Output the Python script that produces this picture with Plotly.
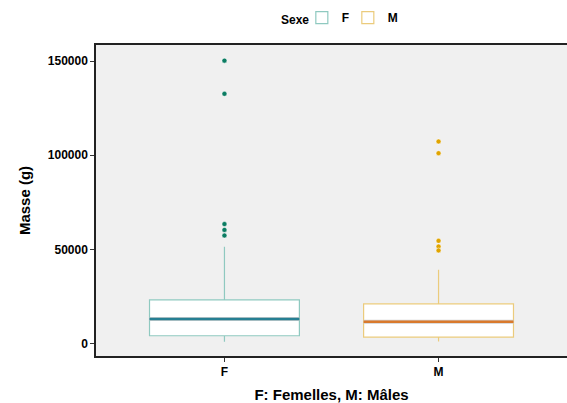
import plotly.graph_objects as go

categories = ["F", "M"]
q1 = [4240, 3550]
median = [13100, 11700]
q3 = [23300, 21200]
lower_fence = [1060, 1200]
upper_fence = [51400, 39200]
outliers_F = [150200, 132600, 63500, 60400, 57400]
outliers_M = [107300, 101100, 54600, 51600, 49500]
outliers = [outliers_F, outliers_M]

box_line = ["#8fc9c0", "#ebcb7c"]
median_color = ["#267f93", "#d9792c"]
outlier_color = ["#0b7c62", "#e0a400"]

box_width = 0.7
fig = go.Figure()
for i, cat in enumerate(categories):
    pos = i + 1
    fig.add_trace(go.Box(
        x=[pos], q1=[q1[i]], median=[median[i]], q3=[q3[i]],
        lowerfence=[lower_fence[i]], upperfence=[upper_fence[i]],
        name=cat, width=box_width, fillcolor="white",
        line=dict(color=box_line[i], width=1.2),
        whiskerwidth=0, showlegend=True, legendgroup=cat, legendrank=i + 1,
    ))
    fig.add_trace(go.Scatter(
        x=[pos] * len(outliers[i]), y=outliers[i], mode="markers",
        marker=dict(color=outlier_color[i], size=5, line=dict(color="white", width=0.5)),
        showlegend=False, legendgroup=cat, hoverinfo="y",
    ))
    fig.add_trace(go.Scatter(
        x=[pos - box_width / 2, pos + box_width / 2], y=[median[i], median[i]],
        mode="lines", line=dict(color="#d0d0d0", width=4),
        showlegend=False, hoverinfo="skip",
    ))
    fig.add_trace(go.Scatter(
        x=[pos - box_width / 2, pos + box_width / 2], y=[median[i], median[i]],
        mode="lines", line=dict(color=median_color[i], width=2.5),
        showlegend=False, hoverinfo="skip",
    ))

# invisible spacer entry so the last legend label is not clipped
fig.add_trace(go.Scatter(
    x=[None], y=[None], mode="markers", name=" ",
    marker=dict(color="rgba(0,0,0,0)", size=1),
    showlegend=True, hoverinfo="skip", legendrank=10,
))

font_family = "Liberation Sans, Arial, sans-serif"
plot_h = 403 - 45 - 47
fig.update_layout(
    width=567, height=403,
    margin=dict(l=96, r=0, t=45, b=47),
    paper_bgcolor="white", plot_bgcolor="#f0f0f0",
    font=dict(family=font_family, color="black", size=12),
    legend=dict(
        orientation="h", x=0.437, xanchor="left", y=0.992, yref="container", yanchor="top",
        font=dict(size=12, weight="bold"), bgcolor="rgba(0,0,0,0)",
        itemwidth=30, entrywidth=1, entrywidthmode="pixels",
        itemclick=False, itemdoubleclick=False,
    ),
    annotations=[dict(
        text="<b>Sexe</b>", x=0.456, xref="paper", xanchor="right",
        y=1 + (45 - 20) / plot_h, yref="paper", yanchor="middle", showarrow=False,
        font=dict(size=12),
    )],
    xaxis=dict(
        range=[0.4, 2.6], tickvals=[1, 2], ticktext=categories,
        tickfont=dict(size=12, weight="bold"),
        showgrid=False, zeroline=False, showline=True, mirror=True,
        linecolor="#222", linewidth=2, ticks="outside", ticklen=4, tickcolor="#333",
        title=dict(text="<b>F: Femelles, M: Mâles</b>", font=dict(size=15), standoff=12),
    ),
    yaxis=dict(
        range=[-6500, 158500], tickvals=[0, 50000, 100000, 150000],
        ticktext=["0", "50000", "100000", "150000"],
        tickfont=dict(size=12, weight="bold"),
        showgrid=False, zeroline=False, showline=True, mirror=False,
        linecolor="#222", linewidth=1.5, ticks="outside", ticklen=4, tickcolor="#333",
        title=dict(text="<b>Masse (g)</b>", font=dict(size=15), standoff=14),
    ),
)

fig.write_html("out.html")
